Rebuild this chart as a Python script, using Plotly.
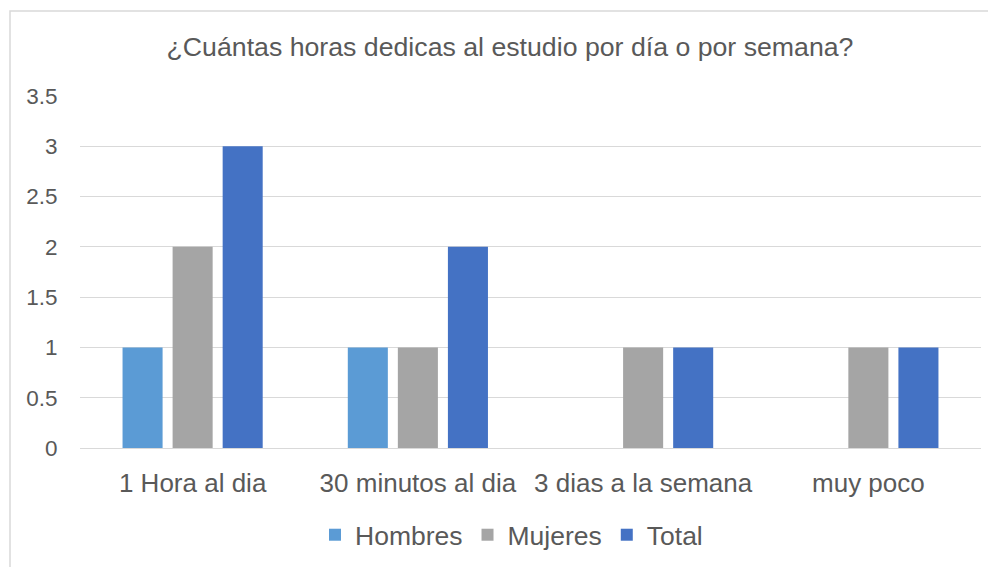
import plotly.graph_objects as go

categories = ["1 Hora al dia", "30 minutos al dia", "3 dias a la semana", "muy poco"]
hombres = [1, 1, 0, 0]
mujeres = [2, 1, 1, 1]
total = [3, 2, 1, 1]
y_ticks = [0, 0.5, 1, 1.5, 2, 2.5, 3, 3.5]
y_labels = ["0", "0.5", "1", "1.5", "2", "2.5", "3", "3.5"]

FONT = "Liberation Sans, Arial, sans-serif"
TXT = "#595959"

fig = go.Figure()
fig.add_trace(go.Bar(name="Hombres", x=categories, y=hombres, marker_color="#5B9BD5", marker_line_width=0))
fig.add_trace(go.Bar(name="Mujeres", x=categories, y=mujeres, marker_color="#A5A5A5", marker_line_width=0))
fig.add_trace(go.Bar(name="Total", x=categories, y=total, marker_color="#4472C4", marker_line_width=0))

# page body has an 8px margin, so the figure is offset by 8px
OFF = 8
W, H = 996 - OFF, 567 - OFF
L, R, T, B = 80 - OFF, 15, 96 - OFF, 567 - 448
pw, ph = W - L - R, H - T - B

fig.update_layout(
    width=W, height=H,
    margin=dict(l=L, r=R, t=T, b=B, autoexpand=False),
    paper_bgcolor="white", plot_bgcolor="white",
    font=dict(family=FONT, color=TXT),
    title=dict(text="¿Cuántas horas dedicas al estudio por día o por semana?",
               x=(510 - OFF) / W, xref="container", xanchor="center",
               y=1 - (47 - OFF) / H, yref="container", yanchor="middle",
               font=dict(size=26.7, color=TXT, family=FONT)),
    barmode="group", bargap=1/3, bargroupgap=0.2,
    legend=dict(orientation="h", x=0.5 - 19 / pw, xanchor="center",
                y=-(535 - 448) / ph, yanchor="middle",
                font=dict(size=26.5, color=TXT, family=FONT), itemwidth=30,
                traceorder="normal"),
    showlegend=True,
)
fig.update_xaxes(showgrid=False, showline=False, ticks="outside", ticklen=12,
                 tickcolor="rgba(0,0,0,0)", tickfont=dict(size=26, color=TXT, family=FONT))
fig.update_yaxes(range=[0, 3.5], tickvals=y_ticks, ticktext=y_labels,
                 showgrid=True, gridcolor="#D9D9D9", gridwidth=1,
                 zeroline=True, zerolinecolor="#D9D9D9", zerolinewidth=1,
                 showline=False, ticks="outside", ticklen=17, tickcolor="rgba(0,0,0,0)",
                 tickfont=dict(size=22.5, color=TXT, family=FONT))

fig.add_shape(type="rect", xref="paper", yref="paper",
              x0=(10 - 80) / pw, x1=1.2, y0=-0.8, y1=1 + (96 - 11) / ph,
              line=dict(color="#D9D9D9", width=1.5), fillcolor="rgba(0,0,0,0)", layer="below")

fig.write_html("out.html")
